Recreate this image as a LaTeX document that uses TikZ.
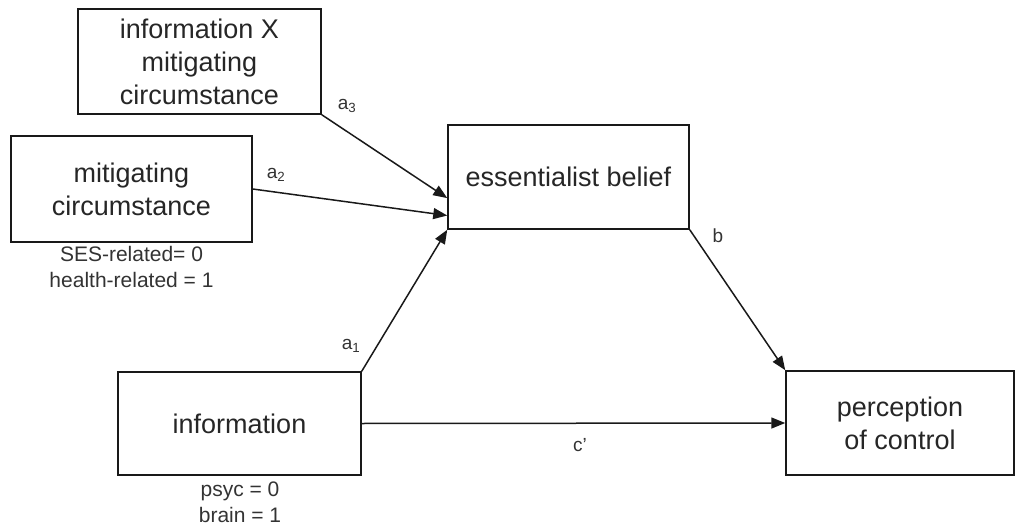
\documentclass[tikz,border=0pt]{standalone}
\usepackage{fontspec}
\setmainfont{Liberation Sans}
\usetikzlibrary{arrows.meta,calc}
\begin{document}
\begin{tikzpicture}[x=1pt,y=-1pt,
  box/.style={draw=black!90,line width=1.5pt,align=center,inner sep=0pt,
    font=\fontsize{27}{33}\selectfont,text=black!85},
  conn/.style={draw=black!90,line width=1.5pt,-{Triangle[length=14pt,width=11pt]}},
  lbl/.style={font=\fontsize{19}{22}\selectfont,text=black!80,inner sep=0pt},
  note/.style={font=\fontsize{21}{26}\selectfont,text=black!80,align=center,inner sep=0pt}]
\useasboundingbox (0,0) rectangle (1016,529);
\node[box,minimum width=243pt,minimum height=105pt] (inter) at (199.5,61.5) {information X\\mitigating\\circumstance};
\node[box,minimum width=241pt,minimum height=106pt] (mit) at (131.5,189) {mitigating\\circumstance};
\node[box,minimum width=241pt,minimum height=104pt] (ess) at (568.5,177) {essentialist belief};
\node[box,minimum width=243pt,minimum height=103pt] (info) at (239.5,423.5) {information};
\node[box,minimum width=228pt,minimum height=104pt] (perc) at (900,423) {perception\\of control};
\node[note] (mitnote) at (131.5,267) {SES-related= 0\\health-related = 1};
\node[note] (infonote) at (240,502) {psyc = 0\\brain = 1};
\draw[conn] (inter.south east) -- ($(ess.north west)!0.7!(ess.south west)$);
\draw[conn] (mit.east) -- ($(ess.north west)!0.865!(ess.south west)$);
\draw[conn] (info.north east) -- (ess.south west);
\draw[conn] (ess.south east) -- (perc.north west);
\draw[conn] (info.east) -- (perc.west);
\node[lbl] (la3) at (347,106) {a\textsubscript{3}};
\node[lbl] (la2) at (276,175) {a\textsubscript{2}};
\node[lbl] (la1) at (351,346) {a\textsubscript{1}};
\node[lbl] (lb) at (718,236) {b};
\node[lbl] (lc) at (580,445) {c'};
\end{tikzpicture}
\end{document}
